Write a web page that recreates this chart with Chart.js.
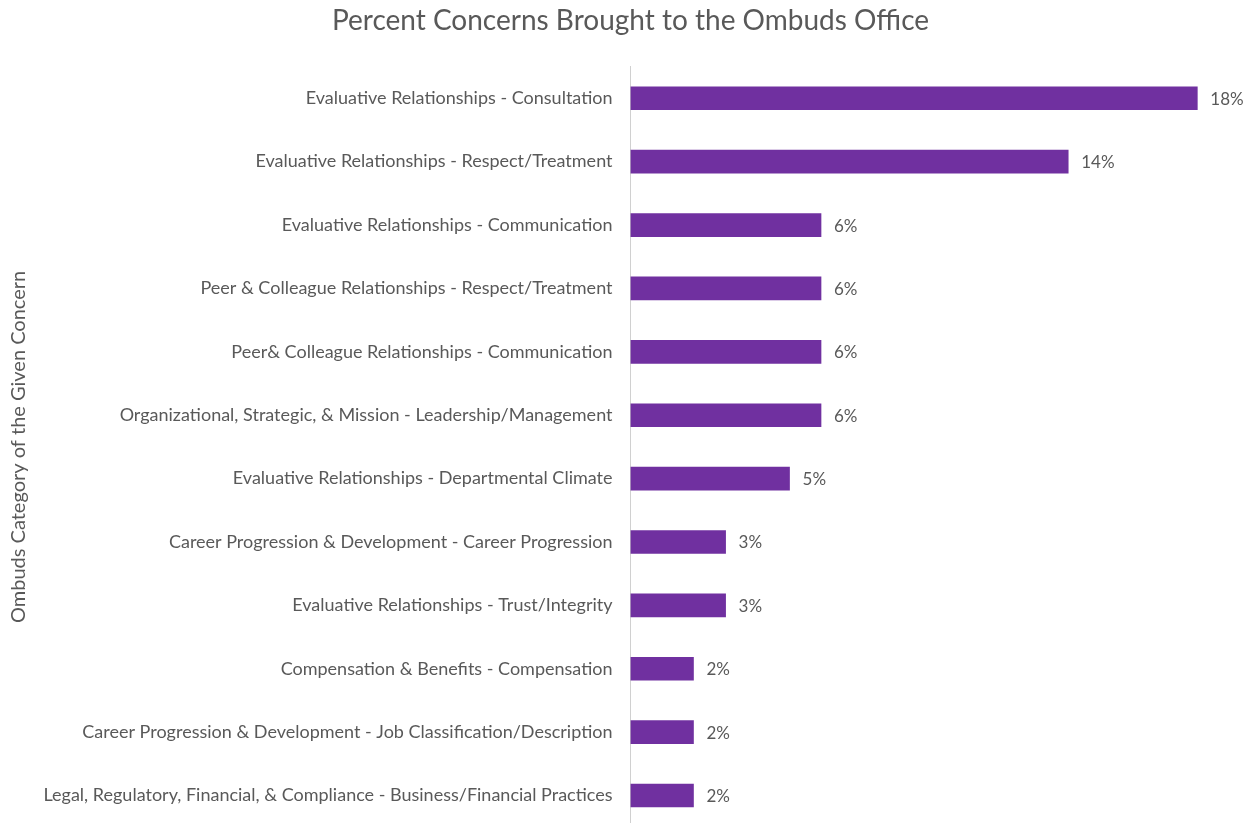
<!DOCTYPE html>
<html>
<head>
<meta charset="utf-8">
<script src="https://cdn.jsdelivr.net/npm/chart.js@4/dist/chart.umd.min.js"></script>
<style>
    html, body { margin: 0; padding: 0; background: #fff; overflow: hidden; }
</style>
</head>
<body>
<canvas id="myChart" width="1256" height="856"></canvas>
<script>
const categories = [
    'Evaluative Relationships - Consultation',
    'Evaluative Relationships - Respect/Treatment',
    'Evaluative Relationships - Communication',
    'Peer & Colleague Relationships - Respect/Treatment',
    'Peer& Colleague Relationships - Communication',
    'Organizational, Strategic, & Mission - Leadership/Management',
    'Evaluative Relationships - Departmental Climate',
    'Career Progression & Development - Career Progression',
    'Evaluative Relationships - Trust/Integrity',
    'Compensation & Benefits - Compensation',
    'Career Progression & Development - Job Classification/Description',
    'Legal, Regulatory, Financial, & Compliance - Business/Financial Practices'
];
const percents = [18, 13.9, 6.05, 6.05, 6.05, 6.05, 5.05, 3.02, 3.02, 2.0, 2.0, 2.0];
const valueLabels = ['18%', '14%', '6%', '6%', '6%', '6%', '5%', '3%', '3%', '2%', '2%', '2%'];

const textColor = '#595959';
const fontFamily = 'Lato, "Open Sans", sans-serif';

// draws the percent text to the right of each bar
const barLabels = {
    id: 'barLabels',
    afterDatasetsDraw(chart) {
        const ctx = chart.ctx;
        const meta = chart.getDatasetMeta(0);
        ctx.save();
        ctx.fillStyle = textColor;
        ctx.font = '17px ' + fontFamily;
        ctx.textAlign = 'left';
        ctx.textBaseline = 'middle';
        meta.data.forEach((bar, i) => {
            ctx.fillText(valueLabels[i], bar.x + 13, bar.y + 1);
        });
        ctx.restore();
    }
};

const ctx = document.getElementById('myChart').getContext('2d');
const chart = new Chart(ctx, {
    type: 'bar',
    data: {
        labels: categories,
        datasets: [{
            data: percents,
            backgroundColor: '#7030A0',
            borderWidth: 0,
            barThickness: 23
        }]
    },
    options: {
        indexAxis: 'y',
        responsive: false,
        animation: false,
        layout: { padding: { top: 0, right: 2, left: 7, bottom: 0 } },
        plugins: {
            legend: { display: false },
            tooltip: { enabled: false },
            title: {
                display: true,
                text: 'Percent Concerns Brought to the Ombuds Office',
                color: textColor,
                font: { family: fontFamily, size: 28, weight: 'normal' },
                padding: { top: 4, bottom: 29 }
            }
        },
        scales: {
            x: {
                display: false,
                min: 0,
                max: 19.8
            },
            y: {
                grid: { display: false, drawTicks: false },
                border: { display: true, color: '#d0d0d0', width: 1 },
                ticks: {
                    color: textColor,
                    font: { family: fontFamily, size: 18 },
                    padding: 18
                },
                title: {
                    display: true,
                    text: 'Ombuds Category of the Given Concern',
                    color: textColor,
                    font: { family: fontFamily, size: 20 },
                    padding: { top: 0, bottom: 12 }
                }
            }
        }
    },
    plugins: [barLabels]
});
</script>
</body>
</html>
